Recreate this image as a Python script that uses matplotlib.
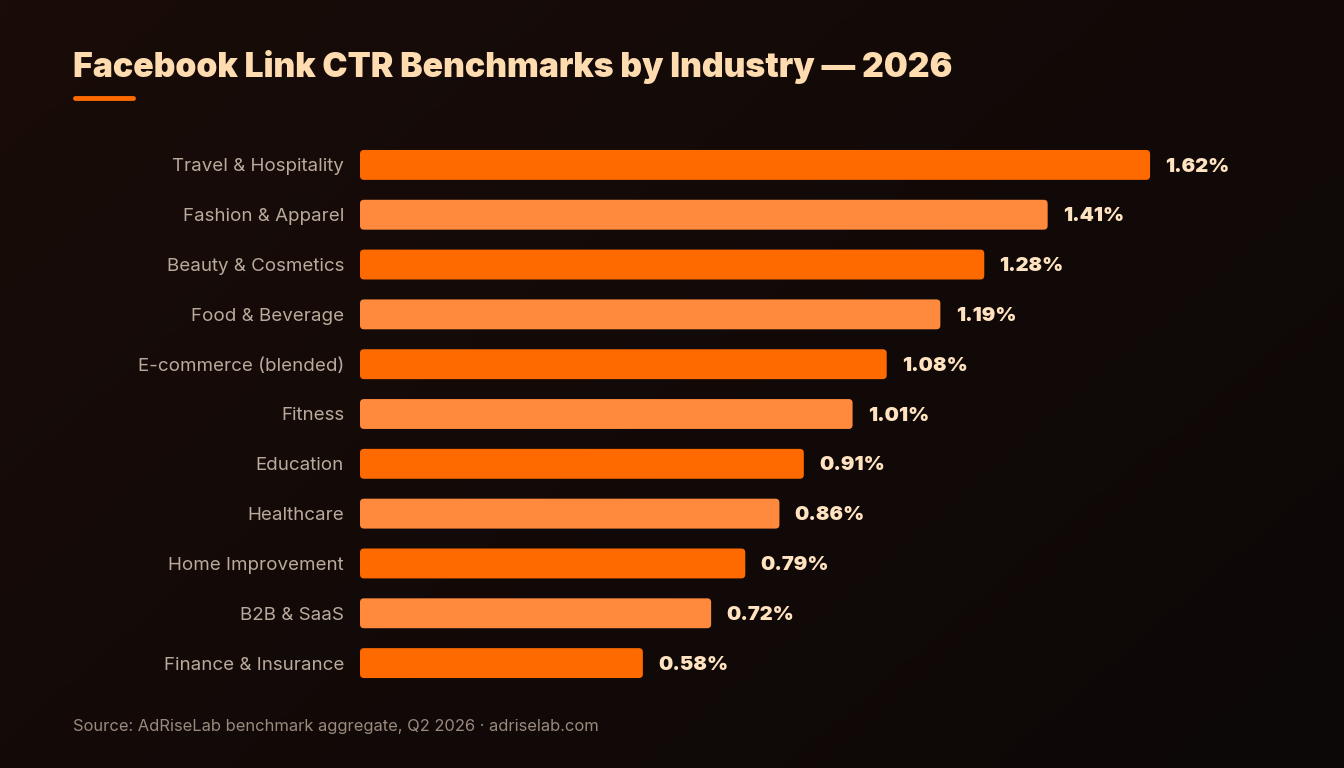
import numpy as np
import matplotlib
matplotlib.use("Agg")
import matplotlib.pyplot as plt
from matplotlib.patches import FancyBboxPatch
from matplotlib.colors import LinearSegmentedColormap

plt.rcParams["font.family"] = ["Inter", "DejaVu Sans"]

# Data
industries = ["Travel & Hospitality", "Fashion & Apparel", "Beauty & Cosmetics",
              "Food & Beverage", "E-commerce (blended)", "Fitness", "Education",
              "Healthcare", "Home Improvement", "B2B & SaaS", "Finance & Insurance"]
ctr = [1.62, 1.41, 1.28, 1.19, 1.08, 1.01, 0.91, 0.86, 0.79, 0.72, 0.58]

title = "Facebook Link CTR Benchmarks by Industry \u2014 2026"
source = "Source: AdRiseLab benchmark aggregate, Q2 2026 \u00b7 adriselab.com"

W, H = 1344, 768
fig = plt.figure(figsize=(W / 100, H / 100), dpi=100)

# background gradient
bg = fig.add_axes([0, 0, 1, 1])
bg.axis("off")
gx, gy = np.meshgrid(np.linspace(0, 1, 200), np.linspace(0, 1, 120))
grad = (gx * 0.6 + gy * 0.4)
cmap_bg = LinearSegmentedColormap.from_list("bg", ["#190c09", "#0c0807"])
bg.imshow(grad, cmap=cmap_bg, aspect="auto", extent=[0, 1, 0, 1])
bg.set_xlim(0, 1)
bg.set_ylim(0, 1)

# main axes (pixel placement)
left, right, top, bottom = 360, 1290, 140, 688
ax = fig.add_axes([left / W, 1 - bottom / H, (right - left) / W, (bottom - top) / H])
ax.set_facecolor("none")
xmax = (right - left) / 487.7
ax.set_xlim(0, xmax)
ax.set_ylim(len(ctr) - 0.5, -0.5)
for s in ax.spines.values():
    s.set_visible(False)
ax.set_xticks([])
ax.set_yticks(range(len(industries)))
ax.set_yticklabels(industries, color="#b9aa9c", fontsize=13.5)
ax.tick_params(axis="y", length=0, pad=11.5)

colors = ["#ff6a00", "#ff8a3d"]
bh = 0.6
rx = 4 / 487.7
ry = 4 / ((bottom - top) / len(ctr))
for i, v in enumerate(ctr):
    p = FancyBboxPatch((0, i - bh / 2), v, bh,
                       boxstyle=f"round,pad=0,rounding_size={rx}",
                       mutation_aspect=ry / rx,
                       facecolor=colors[i % 2], edgecolor="none")
    ax.add_patch(p)
    ax.annotate(f"{v:.2f}%", (v, i), xytext=(11, -1.2), textcoords="offset points",
                va="center", ha="left", color="#ffe2bf", fontsize=14.5,
                fontweight="black")

# title + accent underline
fig.text(73 / W, 1 - 67 / H, title, color="#ffdcb0", fontsize=24.3,
         fontweight="black", va="center", ha="left")
bg.plot([75 / W, 133 / W], [1 - 98 / H, 1 - 98 / H], color="#ff6a00",
        lw=3.5, solid_capstyle="round")

fig.text(73 / W, 1 - 726 / H, source, color="#9a8a7d", fontsize=11.9,
         va="center", ha="left")

fig.savefig("out.png", dpi=100, facecolor="#120a08")
